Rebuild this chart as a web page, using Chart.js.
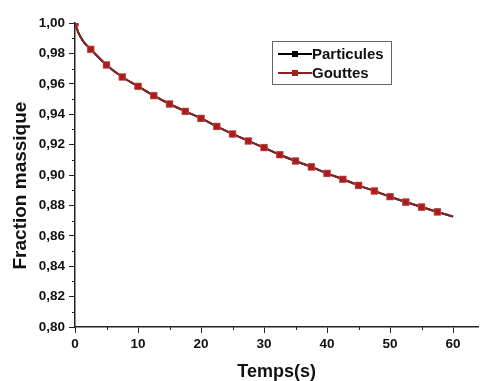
<!DOCTYPE html>
<html>
<head>
<meta charset="utf-8">
<script src="https://cdn.jsdelivr.net/npm/chart.js@4/dist/chart.umd.min.js"></script>
<style>
    html, body { margin: 0; padding: 0; background: #fff; }
    canvas { display: block; }
</style>
</head>
<body>
<canvas id="massChart" width="484" height="381"></canvas>
<script>
// ── Data ──

const times = [0, 0.5, 1, 1.5, 2.5, 5, 7.5, 10, 12.5, 15, 17.5, 20, 22.5, 25, 27.5,
    30, 32.5, 35, 37.5, 40, 42.5, 45, 47.5, 50, 52.5, 55, 57.5, 60];
const particules = [1.000, 0.994, 0.990, 0.987, 0.9827, 0.9724, 0.9645, 0.9584, 0.9522,
    0.9467, 0.9419, 0.9373, 0.9320, 0.9270, 0.9224, 0.9180, 0.9133, 0.9092, 0.9053,
    0.9011, 0.8972, 0.8932, 0.8895, 0.8857, 0.8822, 0.8789, 0.8757, 0.8726];
const gouttes = [1.000, 0.994, 0.990, 0.987, 0.9827, 0.9724, 0.9645, 0.9584, 0.9522,
    0.9467, 0.9419, 0.9373, 0.9320, 0.9270, 0.9224, 0.9180, 0.9133, 0.9092, 0.9053,
    0.9011, 0.8972, 0.8932, 0.8895, 0.8857, 0.8822, 0.8789, 0.8757, 0.8726];
const seriesNames = ["Particules", "Gouttes"];
const xTitle = "Temps(s)";
const yTitle = "Fraction massique";

const FONT = "'Liberation Sans', Arial, sans-serif";
Chart.defaults.font.family = FONT;
Chart.defaults.color = "#111";

// markers every 2.5 s, none on the last point and the extra early points
const markerRadius = (c) => {
    const t = times[c.dataIndex];
    return t % 2.5 === 0 && t < 60 ? 4.7 : 0;
};

const toPoints = (vals) => vals.map((v, i) => ({ x: times[i], y: v }));

// ── Minor ticks (Origin style) ──

const minorTicks = {
    id: "minorTicks",
    afterDraw(chart) {
        const { x, y } = chart.scales;
        const ctx = chart.ctx;
        ctx.save();
        ctx.strokeStyle = "#222";
        ctx.lineWidth = 1;
        ctx.beginPath();
        for (let v = 0.81; v < 1; v += 0.02) {
            const py = Math.round(y.getPixelForValue(v)) + 0.5;
            ctx.moveTo(x.left - 3, py);
            ctx.lineTo(x.left, py);
        }
        for (let v = 5; v < 64; v += 10) {
            const px = Math.round(x.getPixelForValue(v)) + 0.5;
            ctx.moveTo(px, y.bottom);
            ctx.lineTo(px, y.bottom + 3);
        }
        ctx.stroke();
        ctx.restore();
    },
};

// ── Boxed legend inside the plot ──

const boxLegend = {
    id: "boxLegend",
    afterDraw(chart) {
        const ctx = chart.ctx;
        const x0 = 272, y0 = 41, w = 119, h = 43;
        ctx.save();
        ctx.strokeStyle = "#666";
        ctx.lineWidth = 1;
        ctx.strokeRect(x0 + 0.5, y0 + 0.5, w, h);
        chart.data.datasets.forEach((ds, i) => {
            const yy = y0 + 13 + i * 19;
            ctx.strokeStyle = ds.borderColor;
            ctx.lineWidth = 2;
            ctx.beginPath();
            ctx.moveTo(x0 + 6, yy);
            ctx.lineTo(x0 + 40, yy);
            ctx.stroke();
            ctx.fillStyle = ds.pointBackgroundColor;
            ctx.fillRect(x0 + 20, yy - 3, 6, 6);
            ctx.fillStyle = "#111";
            ctx.font = "bold 15px " + FONT;
            ctx.textBaseline = "middle";
            ctx.fillText(ds.label, x0 + 40, yy + 1);
        });
        ctx.restore();
    },
};

new Chart(document.getElementById("massChart").getContext("2d"), {
    type: "line",
    data: {
        datasets: [
            {
                label: seriesNames[0],
                data: toPoints(particules),
                borderColor: "#000",
                borderWidth: 2,
                pointStyle: "rect",
                pointRadius: markerRadius,
                pointBackgroundColor: "#000",
                pointBorderWidth: 0,
                cubicInterpolationMode: "monotone",
                order: 1,
            },
            {
                label: seriesNames[1],
                data: toPoints(gouttes),
                borderColor: "#842424",
                borderWidth: 2,
                pointStyle: "rect",
                pointRadius: markerRadius,
                pointBackgroundColor: "#a81e1e",
                pointBorderColor: "rgba(220, 90, 90, 0.6)",
                pointBorderWidth: 1,
                cubicInterpolationMode: "monotone",
                order: 0,
            },
        ],
    },
    options: {
        responsive: false,
        animation: false,
        layout: { padding: { top: 23, right: 3, left: 0, bottom: 0 } },
        plugins: {
            legend: { display: false },
            tooltip: { enabled: false },
        },
        scales: {
            x: {
                type: "linear",
                min: 0,
                max: 64,
                border: { color: "#222", width: 1.5 },
                grid: { drawOnChartArea: false, drawTicks: true, tickLength: 6, color: "#222" },
                ticks: {
                    stepSize: 10,
                    includeBounds: false,
                    maxRotation: 0,
                    padding: 3,
                    font: { size: 13.5, weight: "bold" },
                    color: "#111",
                },
                title: {
                    display: true,
                    text: xTitle,
                    font: { size: 18, weight: "bold" },
                    color: "#111",
                    padding: { top: 0, bottom: -2 },
                },
                afterFit: (axis) => { axis.height = 54; },
            },
            y: {
                min: 0.8,
                max: 1.0,
                border: { color: "#222", width: 1.5 },
                grid: { drawOnChartArea: false, drawTicks: true, tickLength: 6, color: "#222" },
                ticks: {
                    stepSize: 0.02,
                    padding: 4,
                    font: { size: 13.5, weight: "bold" },
                    color: "#111",
                    callback: (v) => Number(v).toFixed(2).replace(".", ","),
                },
                title: {
                    display: true,
                    // trailing spaces push the centred text down, as in the original
                    text: yTitle + "\u00a0\u00a0\u00a0\u00a0",
                    font: { size: 19, weight: "bold" },
                    color: "#111",
                    padding: { top: 9, bottom: 0 },
                },
                afterFit: (axis) => { axis.width = 75; },
            },
        },
    },
    plugins: [minorTicks, boxLegend],
});
</script>
</body>
</html>
